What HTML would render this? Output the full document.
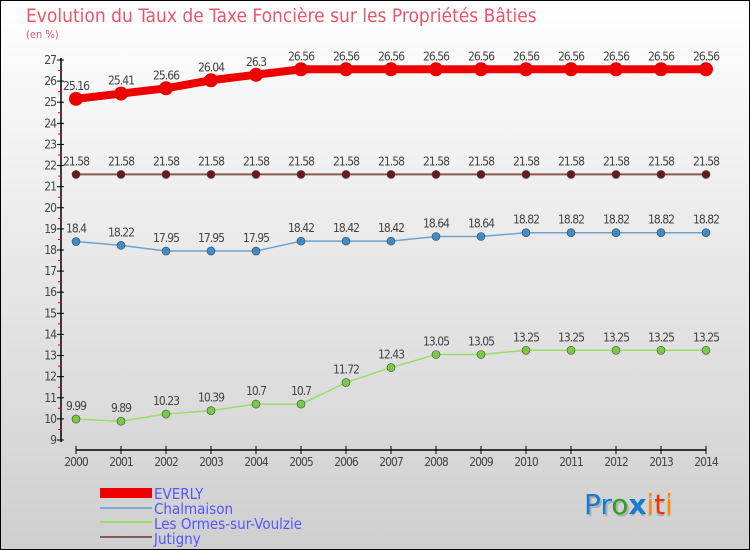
<!DOCTYPE html>
<html><head><meta charset="utf-8"><style>
body{margin:0}
#c{width:750px;height:550px;position:relative;overflow:hidden;background:linear-gradient(#ffffff,#cfcfcf);box-sizing:border-box;border:1px solid #000;font-family:"DejaVu Sans Condensed","Liberation Sans",sans-serif}
</style></head><body>
<div id="c">
<svg id="s" width="750" height="550" style="position:absolute;left:-1px;top:-1px" font-family="'DejaVu Sans Condensed','Liberation Sans',sans-serif">
<text x="26" y="22" font-size="19" fill="#e8566a">Evolution du Taux de Taxe Foncière sur les Propriétés Bâties</text>
<text x="26" y="38" font-size="11" fill="#e8566a">(en %)</text>
<g id="axes"></g><g id="series"></g>
<g>
<rect x="100" y="488" width="52" height="10" fill="#ee0000"/>
<line x1="100" y1="508" x2="152" y2="508" stroke="#7aaed6" stroke-width="2"/>
<line x1="100" y1="522" x2="152" y2="522" stroke="#99dd66" stroke-width="2"/>
<line x1="100" y1="537" x2="152" y2="537" stroke="#8a5858" stroke-width="2"/>
<g font-size="15" fill="#5555ff">
<text x="154" y="499">EVERLY</text>
<text x="154" y="514">Chalmaison</text>
<text x="154" y="529">Les Ormes-sur-Voulzie</text>
<text x="154" y="544">Jutigny</text>
</g></g>
<g font-size="28" font-family="'DejaVu Sans','Liberation Sans',sans-serif">
<text x="586" y="516" fill="#999" opacity="0.6"><tspan>Proxiti</tspan></text>
<text x="584" y="514"><tspan fill="#1a7ad0">Pr</tspan><tspan fill="#2ea020">o</tspan><tspan fill="#1a7ad0" font-weight="bold">x</tspan><tspan fill="#ff8800">i</tspan><tspan fill="#ee3300">t</tspan><tspan fill="#ff8800">i</tspan></text>
</g>
</svg>
</div>
<script>
const years=[2000,2001,2002,2003,2004,2005,2006,2007,2008,2009,2010,2011,2012,2013,2014];
const everly=[25.16,25.41,25.66,26.04,26.3,26.56,26.56,26.56,26.56,26.56,26.56,26.56,26.56,26.56,26.56];
const chalmaison=[18.4,18.22,17.95,17.95,17.95,18.42,18.42,18.42,18.64,18.64,18.82,18.82,18.82,18.82,18.82];
const ormes=[9.99,9.89,10.23,10.39,10.7,10.7,11.72,12.43,13.05,13.05,13.25,13.25,13.25,13.25,13.25];
const jutigny=[21.58,21.58,21.58,21.58,21.58,21.58,21.58,21.58,21.58,21.58,21.58,21.58,21.58,21.58,21.58];
const yTicks=[9,10,11,12,13,14,15,16,17,18,19,20,21,22,23,24,25,26,27];
const NS="http://www.w3.org/2000/svg";
const x=i=>76+i*45;
const y=v=>60+(27-v)*(380/18);
function mk(tag,at,parent){const e=document.createElementNS(NS,tag);for(const k in at)e.setAttribute(k,at[k]);parent.appendChild(e);return e;}
const ax=document.getElementById('axes');
let l=mk('line',{x1:61,y1:58,x2:61,y2:442,stroke:'#000','stroke-width':1.5},ax);


yTicks.forEach(v=>{
  mk('line',{x1:57,y1:y(v),x2:64,y2:y(v),stroke:'#000'},ax);
  if(v<27)mk('line',{x1:58,y1:y(v+0.5),x2:62,y2:y(v+0.5),stroke:'#e00'},ax);
  const t=mk('text',{x:56,y:y(v)+4,'text-anchor':'end','font-size':12,fill:'#444','letter-spacing':'-1'},ax);
  t.textContent=v;
  
  
});
l=mk('line',{x1:76,y1:450,x2:706,y2:450,stroke:'#000','stroke-width':1.5},ax);


years.forEach((yr,i)=>{
  mk('line',{x1:x(i),y1:446,x2:x(i),y2:454,stroke:'#000'},ax);
  const t=mk('text',{x:x(i),y:466,'text-anchor':'middle','font-size':12,fill:'#444','letter-spacing':'-1'},ax);
  t.textContent=yr;
  
  
});
const sg=document.getElementById('series');
function series(name,vals,color,dot,w,r){
  const g=mk('g',{},sg);
  
  
  mk('polyline',{points:vals.map((v,i)=>x(i)+','+y(v)).join(' '),fill:'none',stroke:color,'stroke-width':w},g);
  vals.forEach((v,i)=>{
    const c=mk('circle',{cx:x(i),cy:y(v),r:r,fill:dot,stroke:name==='everly'?'none':'#444','stroke-width':0.6},g);
    
    
    const t=mk('text',{x:x(i),y:y(v)-9,'text-anchor':'middle','font-size':12,fill:'#444','letter-spacing':'-1'},g);
    t.textContent=v;
    
    
  });
}
series('jutigny',jutigny,'#8a5858','#6a1a1a',2,4);
series('chalmaison',chalmaison,'#6ba3d0','#3d8ccc',1.5,4);
series('ormes',ormes,'#99dd66','#77cc44',1.5,4);
series('everly',everly,'#ee0000','#ee0000',8,7);
</script>
</body></html>
